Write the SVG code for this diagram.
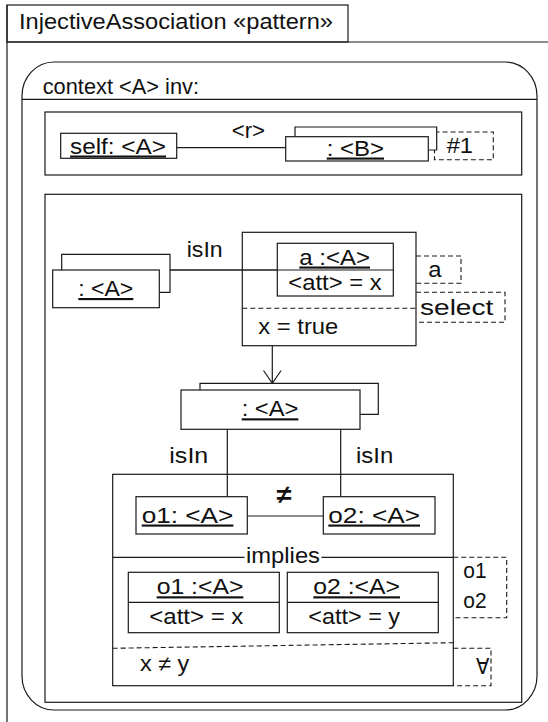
<svg xmlns="http://www.w3.org/2000/svg" width="548" height="722" viewBox="0 0 548 722">
<style>
.s{fill:none;stroke:#1a1a1a;stroke-width:1.2}
.b{fill:#fff;stroke:#1a1a1a;stroke-width:1.2}
.d{fill:none;stroke:#1a1a1a;stroke-width:1.1;stroke-dasharray:5 3}
.t{font-family:"Liberation Sans",Arial,sans-serif;font-size:21.5px;fill:#111}
.u{text-decoration:underline}
</style>
<rect width="548" height="722" fill="#fff"/>
<g id="frame">
<rect class="b" x="7" y="5" width="341" height="37"/>
<path class="s" d="M7,42H548M7,5V722"/>
<text class="t" x="19" y="29.3" textLength="314" lengthAdjust="spacingAndGlyphs">InjectiveAssociation «pattern»</text>
</g>
<g id="context">
<rect class="s" x="22" y="62" width="515" height="648" rx="32" ry="34"/>
<path class="s" d="M22,99.3H537"/>
<text class="t" x="42.7" y="94.3" textLength="156.3" lengthAdjust="spacingAndGlyphs">context &lt;A&gt; inv:</text>
</g>
<g id="scope1">
<rect class="s" x="45" y="112" width="476.7" height="63"/>
</g>
<g id="scope2">
<rect class="s" x="45" y="194.3" width="476.7" height="508"/>
</g>
<g id="connectors">
<path class="s" d="M176.7,147.7H285.7"/>
<path class="s" d="M170,270H277.3"/>
<path class="s" d="M272.3,345.7V383.3M263.5,370.5L272.3,383.3L281.1,370.5"/>
<path class="s" d="M227.3,429.3V496.7M340.7,429.3V496.7"/>
<path class="s" d="M247.3,516H323.3"/>
</g>
<g id="labels">
<text class="t" x="231.7" y="138" textLength="33.3" lengthAdjust="spacingAndGlyphs">&lt;r&gt;</text>
<text class="t" x="186.7" y="256.5" textLength="36" lengthAdjust="spacingAndGlyphs">isIn</text>
<text class="t" x="169.3" y="463.3" textLength="39" lengthAdjust="spacingAndGlyphs">isIn</text>
<text class="t" x="356" y="463.3" textLength="37.3" lengthAdjust="spacingAndGlyphs">isIn</text>
<text class="t" x="276.7" y="503" style="font-size:25px;font-weight:bold" textLength="15" lengthAdjust="spacingAndGlyphs">≠</text>
</g>
<g id="self">
<rect class="b" x="60.7" y="133.3" width="116" height="25"/>
<text class="t u" x="70" y="153.5" textLength="96" lengthAdjust="spacingAndGlyphs">self: &lt;A&gt;</text>
</g>
<g id="b-set">
<rect class="d" x="434.5" y="132" width="58.8" height="27.8"/>
<path class="b" d="M295,136.7V127H436.7V150H428.3"/>
<rect class="b" x="285.7" y="136.7" width="142.6" height="24.3"/>
<text class="t u" x="326.7" y="155.5" textLength="57.3" lengthAdjust="spacingAndGlyphs">: &lt;B&gt;</text>
<text class="t" x="446.7" y="153.3" textLength="26.3" lengthAdjust="spacingAndGlyphs">#1</text>
</g>
<g id="a-set-left">
<path class="b" d="M61.7,270V254.3H170V292.3H159.3"/>
<rect class="b" x="52.7" y="270" width="106.6" height="37.7"/>
<text class="t u" x="78.3" y="296" textLength="55" lengthAdjust="spacingAndGlyphs">: &lt;A&gt;</text>
</g>
<g id="select">
<rect class="s" x="242.3" y="232.3" width="173.7" height="113.4"/>
<path class="d" d="M242.3,308.3H416"/>
<path class="s" d="M170,270H277.3"/>
<text class="t" x="258.3" y="334" textLength="80" lengthAdjust="spacingAndGlyphs">x = true</text>
<path class="d" d="M416,256H461V283.3H416"/>
<text class="t" x="428.3" y="276.7" textLength="13.3" lengthAdjust="spacingAndGlyphs">a</text>
<path class="d" d="M416,292.3H505V322.3H416"/>
<text class="t" x="420" y="314.8" textLength="73.3" lengthAdjust="spacingAndGlyphs">select</text>
</g>
<g id="a">
<rect class="b" x="277.3" y="243.3" width="116" height="52.7"/>
<path class="s" d="M277.3,270H393.3"/>
<text class="t u" x="299.3" y="264.5" textLength="70.7" lengthAdjust="spacingAndGlyphs">a :&lt;A&gt;</text>
<text class="t" x="288.3" y="290" textLength="93.3" lengthAdjust="spacingAndGlyphs">&lt;att&gt; = x</text>
</g>
<g id="a-set-mid">
<path class="b" d="M200,390V383.3H378.3V414.3H360"/>
<rect class="b" x="181" y="390" width="179" height="39.3"/>
<text class="t u" x="241.7" y="416.3" textLength="56.7" lengthAdjust="spacingAndGlyphs">: &lt;A&gt;</text>
</g>
<g id="forall">
<rect class="s" x="112.7" y="474.3" width="340.6" height="211.4"/>
<path class="s" d="M112.7,557.3H244.5M321.5,557.3H453.3"/>
<text class="t" x="246" y="563" textLength="74" lengthAdjust="spacingAndGlyphs">implies</text>
<path class="d" d="M453.3,557.3H506.7V617.7H453.3"/>
<text class="t" x="463.3" y="578.3" textLength="23.3" lengthAdjust="spacingAndGlyphs">o1</text>
<text class="t" x="463.3" y="608.3" textLength="23.3" lengthAdjust="spacingAndGlyphs">o2</text>
<path class="d" d="M112.7,648.3L453.3,642.7"/>
<text class="t" x="140" y="671" textLength="49.3" lengthAdjust="spacingAndGlyphs">x ≠ y</text>
<path class="d" d="M453.3,648.3H491V685.7H453.3"/>
<text class="t" x="475.7" y="674" textLength="13.3" lengthAdjust="spacingAndGlyphs">∀</text>
</g>
<g id="o1">
<rect class="b" x="136" y="496.7" width="111.3" height="37.3"/>
<text class="t u" x="141.7" y="522.5" textLength="91.7" lengthAdjust="spacingAndGlyphs">o1: &lt;A&gt;</text>
</g>
<g id="o2">
<rect class="b" x="323.3" y="496.7" width="111.7" height="37.3"/>
<text class="t u" x="328.3" y="522.5" textLength="91.7" lengthAdjust="spacingAndGlyphs">o2: &lt;A&gt;</text>
</g>
<g id="o1-att">
<rect class="b" x="128.3" y="572.3" width="151" height="60.4"/>
<path class="s" d="M128.3,602.3H279.3"/>
<text class="t u" x="156.7" y="594.3" textLength="86.7" lengthAdjust="spacingAndGlyphs">o1 :&lt;A&gt;</text>
<text class="t" x="149.3" y="624" textLength="94" lengthAdjust="spacingAndGlyphs">&lt;att&gt; = x</text>
</g>
<g id="o2-att">
<rect class="b" x="287.3" y="572.3" width="151" height="60.4"/>
<path class="s" d="M287.3,602.3H438.3"/>
<text class="t u" x="313.3" y="594.3" textLength="86.7" lengthAdjust="spacingAndGlyphs">o2 :&lt;A&gt;</text>
<text class="t" x="308.3" y="624" textLength="91.7" lengthAdjust="spacingAndGlyphs">&lt;att&gt; = y</text>
</g>
</svg>
